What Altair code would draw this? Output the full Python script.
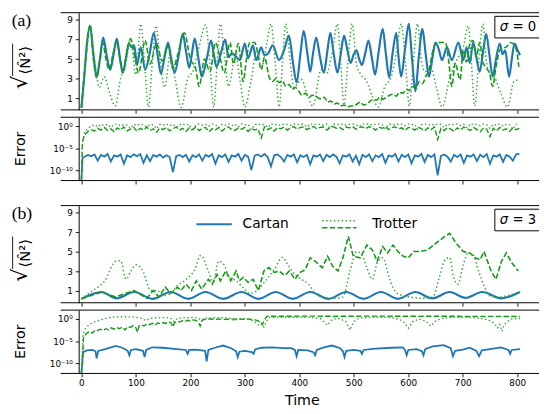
import altair as alt
import pandas as pd

# ---------------- data ----------------
TICKS_X = [0, 100, 200, 300, 400, 500, 600, 700, 800]
TICKS_N = [1, 3, 5, 7, 9]
TICKS_E = [1e-10, 1e-5, 1]

# panel (a), sigma = 0 : sqrt(<N^2>) vs time, (t, value)
A_CARTAN = [
(0,0.0),(5,3.0),(10,6.5),(16,8.4),(22,5.5),(28,3.2),(34,5.0),(40,7.2),(47,5.2),(53,3.9),
(59,5.5),(65,7.1),(71,5.0),(76,3.6),(82,5.2),(87,6.6),(93,6.2),(97,6.4),(102,4.4),(109,6.2),
(117,3.9),(125,5.5),(133,7.7),(140,5.4),(146,3.5),(152,5.0),(159,6.7),(165,5.0),(171,3.6),(179,5.5),
(186,7.6),(192,5.8),(198,4.1),(203,5.6),(208,7.1),(215,5.0),(221,3.2),(230,5.0),(238,6.9),(243,5.5),
(248,4.2),(256,5.6),(264,7.0),(270,5.2),(276,5.6),(283,5.3),(291,4.9),(300,6.6),(306,5.1),(315,6.4),
(321,4.9),(330,6.2),(336,5.4),(343,5.6),(351,6.4),(363,4.9),(372,5.9),(381,7.4),(388,4.8),(395,2.6),
(402,5.5),(408,7.9),(415,5.5),(420,3.7),(425,5.5),(431,7.2),(438,5.2),(445,3.6),(451,5.6),(457,7.7),
(463,5.6),(470,3.6),(476,5.5),(482,7.4),(488,6.0),(494,4.6),(500,5.5),(505,5.9),(510,5.0),(515,4.4),
(521,5.6),(527,6.9),(533,5.2),(539,3.4),(546,5.9),(553,8.1),(559,5.5),(565,3.1),(571,5.5),(578,7.7),
(582,5.3),(587,3.2),(594,6.0),(601,8.6),(607,5.0),(613,1.7),(619,5.0),(626,8.1),(632,5.5),(638,3.2),
(644,5.0),(650,6.7),(656,6.0),(662,4.9),(671,6.2),(680,4.9),(692,6.7),(701,4.9),(707,6.2),(713,4.6),
(719,6.7),(725,5.2),(731,3.7),(737,5.6),(743,7.6),(749,5.4),(755,3.2),(761,5.0),(768,6.6),(773,5.5),
(778,5.9),(785,3.2),(790,5.0),(795,6.6),(800,6.0),(805,5.4)]

A_TROT_DASH = [
(0,0.0),(8,5.0),(16,8.5),(22,5.0),(28,3.1),(34,5.0),(39,6.7),(45,5.0),(51,3.9),(58,5.5),
(65,6.7),(71,5.0),(76,3.6),(83,5.5),(90,7.1),(99,4.9),(105,3.6),(117,6.9),(126,4.5),(138,6.6),
(148,4.8),(159,6.3),(168,4.0),(177,5.5),(189,7.7),(200,5.0),(210,4.0),(216,2.2),(226,5.0),(236,3.7),
(246,6.7),(255,5.0),(262,3.6),(273,6.7),(279,4.5),(288,6.6),(297,2.7),(303,5.0),(309,6.7),(318,6.7),
(324,5.6),(330,3.9),(336,5.2),(345,3.1),(351,2.7),(357,3.0),(363,2.6),(369,2.8),(375,2.2),(381,2.4),
(387,1.9),(393,2.1),(399,1.7),(405,1.3),(411,1.5),(418,1.1),(424,1.3),(430,1.2),(440,0.9),(446,1.1),
(452,0.6),(458,0.7),(464,0.4),(470,0.5),(476,0.2),(482,0.3),(488,0.1),(494,0.2),(500,0.2),(506,0.4),
(512,0.6),(518,0.3),(524,0.4),(530,0.7),(536,0.9),(542,0.8),(548,1.1),(554,0.9),(560,1.1),(566,1.3),
(572,1.4),(578,1.2),(584,1.6),(590,1.5),(596,1.9),(602,1.8),(608,2.2),(614,2.0),(620,2.7),(626,2.5),
(632,3.2),(638,3.9),(644,5.6),(650,6.6),(659,6.7),(668,6.7),(674,4.9),(680,2.2),(686,4.6),(695,2.9),
(701,5.9),(707,4.7),(713,6.6),(719,6.9),(725,5.2),(731,6.7),(737,4.7),(743,4.1),(749,3.6),(755,2.2),
(761,4.2),(770,6.1),(779,6.2),(788,6.7),(797,6.2),(803,4.2)]

A_TROT_DOT = [
(0,0.0),(8,5.0),(16,8.4),(24,5.0),(33,2.1),(42,3.2),(52,1.5),(62,0.2),(72,3.0),(81,4.4),
(90,7.0),(100,3.4),(109,8.6),(116,4.5),(123,0.1),(130,4.5),(137,8.4),(145,4.5),(153,2.1),(163,5.5),
(172,3.0),(183,0.05),(195,3.0),(205,3.8),(215,6.0),(228,8.5),(236,4.5),(243,0.1),(249,4.5),(255,8.6),
(263,5.0),(270,2.2),(283,5.3),(292,2.5),(300,0.1),(312,3.0),(322,5.9),(330,4.0),(340,6.5),(348,8.6),
(356,4.5),(363,0.1),(369,4.5),(375,8.6),(383,5.0),(390,2.1),(397,2.5),(404,2.9),(414,1.5),(425,0.2),
(440,3.9),(450,3.5),(461,5.9),(470,8.6),(476,4.5),(482,0.3),(489,4.5),(497,8.6),(505,4.5),(512,3.5),
(524,2.7),(534,1.2),(545,0.1),(557,2.2),(569,3.2),(578,5.6),(587,8.6),(595,4.5),(602,0.2),(609,4.5),
(617,8.6),(624,5.0),(631,3.7),(641,4.2),(652,2.0),(662,0.1),(677,3.2),(689,4.9),(701,6.2),(710,8.4),
(716,4.5),(722,0.2),(729,4.5),(737,8.6),(743,5.0),(749,3.6),(758,3.2),(770,1.5),(782,0.1),(794,2.7),
(803,2.9)]

# panel (a) error, log10 of error on the grid t = 6, 12, ..., 804 (plus the start)
ERR_T = list(range(6, 805, 6))
ERR_START_T = [0, 2]
A_ERR_CARTAN_START = [-12.3, -7.3]
A_ERR_CARTAN = [
-6.9,-6.5,-6.8,-6.4,-7.8,-6.5,-6.9,-6.3,-8.0,-6.6,
-6.9,-6.4,-8.5,-6.6,-7.0,-6.4,-6.8,-6.3,-8.3,-6.6,
-7.9,-6.5,-6.9,-6.4,-7.1,-6.6,-7.0,-10.4,-6.8,-6.5,
-7.0,-6.5,-8.0,-6.6,-7.0,-6.4,-7.8,-6.5,-6.9,-6.3,
-8.5,-6.6,-7.0,-6.4,-8.1,-6.6,-6.9,-6.3,-7.8,-6.5,
-6.9,-9.9,-6.7,-6.4,-6.9,-6.3,-7.0,-9.1,-6.6,-6.4,
-7.0,-8.0,-6.5,-6.9,-6.4,-8.2,-6.6,-7.0,-6.5,-8.6,
-6.6,-6.9,-6.4,-7.9,-6.5,-7.0,-6.4,-6.9,-8.4,-6.6,
-6.9,-6.4,-8.0,-6.7,-8.6,-6.5,-7.0,-6.4,-7.9,-6.6,
-7.0,-6.3,-8.3,-6.6,-6.9,-6.3,-8.0,-6.5,-7.0,-6.4,
-8.4,-6.6,-6.9,-6.3,-8.1,-6.5,-7.0,-6.4,-11.1,-6.7,
-6.4,-6.9,-8.0,-6.5,-7.0,-6.4,-8.3,-6.6,-6.9,-6.4,
-7.9,-6.5,-7.0,-6.3,-8.5,-6.6,-6.9,-6.4,-8.1,-6.5,
-6.9,-7.8,-6.4,-6.3]
A_ERR_TROT_START = [-12.3, -3.5]
A_ERR_TROT_DASH = [
-2.0,-1.2,-0.8,-1.1,-0.5,-0.9,-0.3,-1.0,-0.6,-1.3,
-0.4,-0.9,-0.2,-1.1,-0.7,-0.3,-1.2,-0.5,-0.9,-0.2,
-1.0,-0.6,-1.4,-0.4,-0.8,-0.3,-1.1,-0.6,-0.2,-0.9,
-0.5,-1.2,-0.4,-0.8,-0.2,-1.0,-0.5,-0.3,-1.3,-0.6,
-0.9,-0.3,-1.1,-0.5,-0.2,-0.8,-1.0,-0.4,-0.7,-0.3,
-1.2,-0.5,-0.9,-0.6,-2.7,-0.2,-0.8,-0.4,-1.1,-0.3,
-0.6,-0.2,-0.9,-0.4,-0.1,-0.7,-0.3,-0.2,-0.8,-0.4,
-0.1,-0.6,-0.3,-0.2,-0.9,-0.4,-0.1,-0.5,-0.3,-0.8,
-0.2,-0.4,-0.1,-0.7,-0.3,-0.2,-0.6,-0.1,-0.4,-0.9,
-0.2,-0.5,-0.1,-0.8,-0.3,-0.2,-0.6,-0.4,-1.0,-0.3,
-0.5,-0.9,-0.2,-0.6,-1.1,-0.4,-0.8,-0.2,-3.0,-0.5,
-1.0,-0.3,-0.7,-1.2,-0.4,-0.9,-0.2,-0.6,-1.0,-0.3,
-0.8,-1.3,-0.4,-0.7,-2.4,-0.5,-1.1,-0.3,-0.9,-0.6,
-1.2,-0.4,-0.8,-0.5]
A_ERR_TROT_DOT = [
-1.3,-0.5,0.0,0.3,-0.2,0.4,0.1,0.4,-0.3,0.3,
0.5,0.0,0.4,0.2,-0.5,0.4,0.1,0.5,0.2,-0.2,
0.4,0.3,-0.6,0.4,0.2,0.5,0.1,0.4,-0.3,0.3,
0.5,0.2,0.4,-1.2,0.3,0.5,0.2,0.4,0.0,0.5,
0.3,-0.4,0.4,0.2,0.5,0.1,0.4,-0.2,0.5,0.3,
0.4,-0.8,0.3,0.5,0.2,0.4,-0.3,0.5,0.3,0.4,
0.1,0.5,0.4,0.2,0.5,0.3,0.5,0.4,-0.2,0.5,
0.3,0.5,0.4,0.2,0.5,-0.5,0.4,0.5,0.3,0.5,
0.2,0.4,0.5,0.3,-0.1,0.5,0.4,0.5,0.2,0.4,
0.5,0.3,-0.6,0.4,0.5,0.2,0.5,0.4,0.1,0.5,
0.3,0.4,-0.9,0.3,0.5,0.4,0.1,0.5,0.3,0.4,
-0.3,0.5,0.2,0.4,0.5,0.1,0.4,-0.4,0.5,0.3,
0.4,0.1,0.5,0.3,-0.5,0.4,0.2,0.5,0.0,0.4,
0.3,-0.7,0.4,0.4]

# panel (b), sigma = 3
B_CARTAN = [
(0,0.2),(37,0.9),(64,0.25),(97,0.9),(130,0.2),(164,0.9),(196,0.2),(228,0.9),(260,0.2),(294,0.9),
(325,0.2),(357,0.9),(388,0.2),(420,0.9),(454,0.2),(486,0.9),(518,0.2),(550,0.9),(581,0.2),(613,0.9),
(644,0.25),(676,0.9),(705,0.3),(736,0.9),(771,0.25),(805,0.9)]

B_TROT_DASH = [
(0,0.2),(37,0.9),(63,0.4),(97,1.05),(120,0.25),(132,1.05),(142,0.4),(154,1.4),(164,0.75),(176,1.4),
(183,1.05),(192,1.7),(202,1.05),(211,2.05),(221,1.2),(233,2.2),(240,1.7),(249,2.7),(255,2.05),(265,3.05),
(274,2.05),(284,3.05),(290,2.05),(297,2.4),(306,1.9),(315,2.2),(325,1.05),(335,3.05),(344,3.4),(354,2.9),
(363,3.05),(373,2.6),(382,3.05),(392,2.2),(401,2.9),(411,3.2),(420,4.4),(429,4.05),(442,3.4),(452,4.55),
(461,3.55),(471,3.05),(480,4.4),(490,6.6),(499,4.55),(512,4.4),(524,5.7),(534,5.2),(543,4.05),(553,5.55),
(562,4.9),(572,5.7),(581,5.05),(591,4.55),(600,4.4),(610,5.05),(622,5.05),(635,5.2),(651,5.9),(666,6.55),
(676,6.9),(688,5.9),(701,5.05),(713,4.9),(723,4.4),(732,4.2),(739,5.05),(752,3.05),(761,2.2),(771,4.05),
(780,4.9),(790,3.9),(802,3.05)]

B_TROT_DOT = [
(0,0.2),(21,1.05),(43,2.05),(63,4.05),(72,4.1),(82,2.2),(91,3.05),(101,3.7),(114,2.9),(127,1.05),
(139,1.05),(151,0.55),(164,0.75),(176,1.55),(189,2.05),(208,3.2),(219,4.65),(233,3.05),(242,1.9),(252,4.05),
(262,3.7),(271,2.4),(284,2.05),(296,1.4),(309,0.75),(322,1.05),(338,2.05),(354,3.2),(369,4.45),(379,3.7),
(392,2.7),(404,2.2),(417,1.7),(429,0.75),(442,0.4),(461,0.25),(480,0.4),(493,3.05),(505,5.05),(515,4.7),
(524,3.4),(534,2.2),(543,3.9),(553,4.4),(565,2.4),(575,1.05),(588,0.55),(607,0.35),(626,0.25),(645,0.4),
(657,2.4),(666,4.05),(676,4.45),(682,2.7),(691,1.7),(701,3.7),(710,4.9),(719,4.7),(729,3.05),(739,1.55),
(752,0.45),(767,0.4),(783,0.55),(796,0.75),(805,0.9)]

# panel (b) error, (t, log10 error)
B_ERR_CARTAN = [
(0,-12.3),(3,-7.5),(10,-7.1),(20,-7.0),(26,-7.3),(28,-8.9),(31,-7.2),(44,-6.8),(63,-6.1),(75,-6.5),
(85,-7.2),(88,-8.2),(91,-7.0),(100,-6.8),(113,-7.2),(116,-8.6),(119,-7.0),(130,-6.4),(150,-6.5),(175,-6.8),
(192,-7.0),(195,-7.9),(198,-7.0),(210,-6.9),(227,-7.2),(230,-9.6),(233,-7.0),(245,-6.5),(260,-6.0),(275,-6.6),
(284,-7.3),(287,-8.6),(290,-7.4),(300,-7.2),(313,-7.5),(316,-7.9),(319,-6.9),(330,-6.5),(350,-6.4),(370,-6.6),
(385,-6.6),(392,-7.0),(395,-8.4),(398,-7.0),(415,-7.1),(426,-7.5),(429,-8.2),(432,-7.0),(445,-6.4),(460,-6.0),
(475,-6.6),(480,-7.3),(483,-8.6),(486,-7.2),(500,-7.0),(512,-7.2),(515,-7.9),(518,-7.0),(540,-6.7),(570,-6.5),
(590,-6.4),(594,-7.0),(597,-8.2),(600,-7.0),(615,-6.8),(625,-7.3),(628,-8.2),(631,-6.8),(645,-6.2),(665,-5.9),
(678,-6.6),(682,-8.4),(686,-7.2),(700,-6.9),(713,-6.5),(725,-7.2),(730,-8.4),(735,-7.1),(750,-6.8),(770,-6.4),
(784,-7.0),(787,-7.9),(790,-7.0),(805,-6.8)]

B_ERR_TROT_DASH = [
(0,-12.3),(2,-10.0),(4,-4.0),(8,-3.5),(12,-3.0),(16,-2.8),(20,-3.2),(25,-2.5),(30,-2.6),(35,-2.3),
(40,-2.6),(45,-2.2),(50,-2.5),(55,-2.0),(60,-2.3),(65,-1.9),(70,-2.2),(75,-1.8),(80,-2.5),(85,-1.7),
(90,-1.9),(95,-1.5),(100,-2.0),(103,-3.0),(106,-1.5),(110,-1.3),(115,-1.6),(120,-1.1),(125,-1.3),(130,-1.0),
(135,-1.4),(140,-0.9),(145,-1.1),(150,-0.8),(155,-1.0),(160,-0.6),(165,-0.9),(168,-1.8),(171,-0.8),(175,-0.5),
(180,-0.7),(185,-0.4),(190,-0.6),(195,-0.3),(200,-0.5),(205,-0.2),(210,-0.3),(215,-0.8),(218,-1.6),(221,-0.4),
(225,-0.1),(235,0.0),(245,-0.1),(255,0.0),(265,-0.1),(275,-0.05),(285,0.0),(295,-0.1),(305,0.0),(315,-0.1),
(322,-0.3),(327,-0.6),(332,-1.3),(336,-0.3),(340,0.6),(380,0.62),(420,0.65),(460,0.6),(500,0.62),(540,0.65),
(580,0.62),(620,0.6),(660,0.62),(700,0.6),(740,0.6),(780,0.55),(805,0.55)]

B_ERR_TROT_DOT = [
(0,-12.0),(3,-3.5),(8,-2.0),(15,-1.2),(25,-0.6),(35,-0.2),(50,0.3),(65,0.5),(80,0.5),(95,0.45),
(110,0.2),(118,-0.35),(125,0.1),(140,0.3),(155,0.35),(165,0.1),(170,-0.6),(176,0.1),(190,0.3),(205,0.35),
(215,0.2),(220,-0.3),(228,0.2),(245,0.3),(260,0.3),(275,0.1),(281,-0.4),(288,0.0),(300,0.1),(312,-0.3),
(320,-0.8),(325,-1.4),(330,-0.9),(335,-1.8),(340,-0.5),(345,0.3),(360,0.35),(380,0.4),(400,0.4),(420,0.35),
(440,0.0),(451,-1.4),(460,-0.2),(470,0.2),(485,-0.5),(493,-2.5),(500,-0.6),(510,0.2),(530,0.35),(550,0.4),
(570,0.3),(585,-0.2),(592,-0.7),(600,-2.1),(608,-0.6),(620,0.0),(632,-0.5),(641,-1.6),(650,-0.5),(660,0.1),
(680,0.35),(700,0.4),(720,0.3),(740,0.0),(750,-0.4),(758,-1.0),(764,-2.0),(768,-1.2),(772,-2.8),(776,-1.3),
(782,-0.6),(790,0.0),(800,0.1),(805,0.1)]

# ---------------- helpers ----------------
XMIN, XMAX = -5, 840
W = 469
HN, HE = 99, 64.5
BLUE = "#1f77b4"
GDASH = "#139a13"
GDOT = "#36aa36"
INK = "#000000"
FONT = "DejaVu Sans"

one = pd.DataFrame({"k": [0]})


def pairs_df(pairs):
    return pd.DataFrame({"t": [p[0] for p in pairs], "v": [p[1] for p in pairs]})


def err_df(start_vals, vals):
    t = ERR_START_T + ERR_T
    e = start_vals + vals
    return pd.DataFrame({"t": t, "v": [10 ** x for x in e]})


def log_df(pairs):
    return pd.DataFrame({"t": [p[0] for p in pairs], "v": [10 ** p[1] for p in pairs]})


def xenc(labels):
    return alt.X("t:Q", scale=alt.Scale(domain=[XMIN, XMAX], nice=False, zero=False),
                 axis=alt.Axis(values=TICKS_X, labels=labels, domain=False, grid=False,
                               tickSize=3.5, tickWidth=0.9, tickColor=INK, labelFont=FONT,
                               labelFontSize=9, labelColor=INK, labelPadding=2, title=""))


def yenc_n():
    return alt.Y("v:Q", scale=alt.Scale(domain=[-0.2, 9.75], nice=False, zero=False),
                 axis=alt.Axis(values=TICKS_N, grid=False, tickSize=3.5, tickWidth=0.9, tickColor=INK,
                               domainColor=INK, domainWidth=1, labelFont=FONT, labelFontSize=9,
                               labelColor=INK, labelPadding=3, title=""))


def yenc_e():
    return alt.Y("v:Q", scale=alt.Scale(type="log", domain=[10 ** -12.3, 10 ** 2.0], nice=False),
                 axis=alt.Axis(values=TICKS_E, grid=False, tickSize=3.5, tickWidth=0.9, tickColor=INK,
                               domainColor=INK, domainWidth=1, labelFont=FONT, labelFontSize=9,
                               labelColor=INK, labelPadding=3, title="",
                               labelExpr="datum.value >= 0.5 ? '10\u2070' : (datum.value > 1e-7 ? '10\u207b\u2075' : '10\u207b\u00b9\u2070')"))


def line(df, color, width, labels, ykind, dash=None, interp="linear"):
    kw = dict(color=color, strokeWidth=width, interpolate=interp, clip=True)
    if dash is not None:
        kw["strokeDash"] = dash
    y = yenc_n() if ykind == "n" else yenc_e()
    return alt.Chart(df).mark_line(**kw).encode(x=xenc(labels), y=y)


def hrule(x1, x2, y, color=INK, width=1.0, dash=None):
    kw = dict(color=color, strokeWidth=width)
    if dash is not None:
        kw["strokeDash"] = dash
    return alt.Chart(one).mark_rule(**kw).encode(x=alt.value(x1), x2=alt.value(x2), y=alt.value(y))


def vrule(x, y1, y2, color=INK, width=1.0):
    return alt.Chart(one).mark_rule(color=color, strokeWidth=width).encode(
        x=alt.value(x), y=alt.value(y1), y2=alt.value(y2))


def text(s, x, y, size, align="left", angle=0, font=FONT, style="normal"):
    kw = dict(text=s, font=font, fontSize=size, align=align, baseline="middle", color=INK,
              fontStyle=style)
    if angle:
        kw["angle"] = angle
    return alt.Chart(one).mark_text(**kw).encode(x=alt.value(x), y=alt.value(y))


def spines(H):
    return [hrule(-18.3, W, 0), hrule(-18.3, W, H)]


def sigma_box(label):
    return [
        alt.Chart(one).mark_rect(color="white").encode(
            x=alt.value(424), x2=alt.value(W), y=alt.value(3.7), y2=alt.value(25.7)),
        hrule(424, W, 3.7), hrule(424, W, 25.7), vrule(424, 3.7, 25.7),
        text("\u03c3", 429, 15, 13.5, style="italic"),
        text("= " + label, 442, 15, 13.5),
    ]


def sqrt_title():
    # sqrt( <N^2> ) written vertically: radical sign, vinculum, bracket expression
    return [
        text("\u27e8N\u0302\u00b2\u27e9", -55, 48.5, 15, align="center", angle=270),
        text("\u221a", -58.5, 71, 21, align="center", angle=270),
        vrule(-67.3, 31.5, 64.5, INK, 0.9),
    ]


def n_panel(cartan, dash, dot, panel, sig, legend=False, dash_interp="monotone"):
    layers = [
        line(pairs_df(cartan), BLUE, 2.2, False, "n", interp="monotone"),
        line(pairs_df(dash), GDASH, 1.6, False, "n", dash=[5.5, 2.4], interp=dash_interp),
        line(pairs_df(dot), GDOT, 1.5, False, "n", dash=[1.5, 2.5], interp="monotone"),
    ] + spines(HN) + sigma_box(sig) + [
        text(panel, -68.3, 9, 18, font="Liberation Serif"),
    ] + sqrt_title()
    if legend:
        layers += [
            hrule(120, 156, 19, BLUE, 2.2),
            text("Cartan", 167, 19, 14),
            hrule(248, 283, 15.5, GDOT, 1.5, [1.5, 2.5]),
            hrule(248, 283, 22.5, GDASH, 1.6, [5.5, 2.4]),
            text("Trotter", 299, 19, 14),
        ]
    return alt.layer(*layers).properties(width=W, height=HN)


def e_panel(c_df, dash_df, dot_df, bottom=False):
    layers = [
        line(c_df, BLUE, 1.8, bottom, "e"),
        line(dash_df, GDASH, 1.4, bottom, "e", dash=[5.5, 2.4]),
        line(dot_df, GDOT, 1.4, bottom, "e", dash=[1.5, 2.5]),
    ] + spines(HE) + [
        text("Error", -58.8, HE / 2, 14.5, align="center", angle=270),
    ]
    if bottom:
        layers.append(text("Time", 227.8, HE + 28, 14.5, align="center"))
    return alt.layer(*layers).properties(width=W, height=HE)


aN = n_panel(A_CARTAN, A_TROT_DASH, A_TROT_DOT, "(a)", "0")
aE = e_panel(err_df(A_ERR_CARTAN_START, A_ERR_CARTAN),
             err_df(A_ERR_TROT_START, A_ERR_TROT_DASH),
             err_df(A_ERR_TROT_START, A_ERR_TROT_DOT))
bN = n_panel(B_CARTAN, B_TROT_DASH, B_TROT_DOT, "(b)", "3", legend=True, dash_interp="linear")
bE = e_panel(log_df(B_ERR_CARTAN), log_df(B_ERR_TROT_DASH), log_df(B_ERR_TROT_DOT), bottom=True)

# empty spacer between the two groups of panels
gap = alt.Chart(one).mark_point(opacity=0).encode(
    x=alt.value(0), y=alt.value(0)).properties(width=W, height=10)

chart = alt.vconcat(aN, aE, gap, bN, bE, spacing=7.5, bounds="flush").properties(
    padding={"left": 2, "top": 0, "right": 0, "bottom": 0}
).configure_view(stroke="transparent")

chart.save("out.html", embed_options={"renderer": "svg", "actions": False})
